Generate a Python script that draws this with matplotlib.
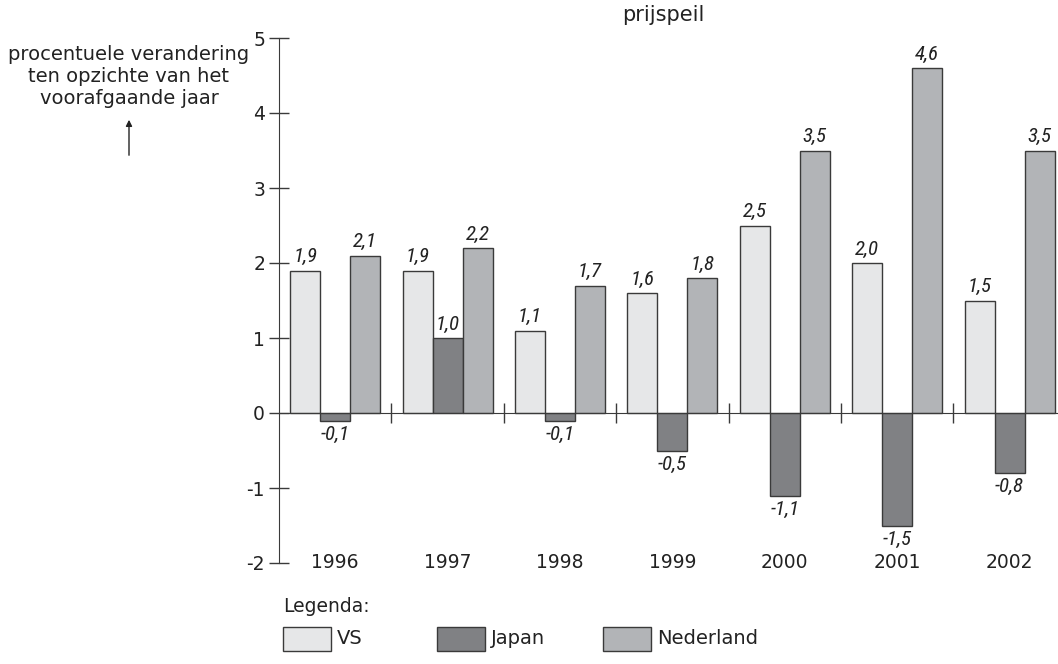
import matplotlib
matplotlib.use("Agg")
import matplotlib.pyplot as plt
import numpy as np
from matplotlib import font_manager
from matplotlib.patches import Rectangle, FancyArrowPatch

# data
years = ["1996", "1997", "1998", "1999", "2000", "2001", "2002"]
vs = [1.9, 1.9, 1.1, 1.6, 2.5, 2.0, 1.5]
japan = [-0.1, 1.0, -0.1, -0.5, -1.1, -1.5, -0.8]
nederland = [2.1, 2.2, 1.7, 1.8, 3.5, 4.6, 3.5]
series_names = ["VS", "Japan", "Nederland"]
yticks = [-2, -1, 0, 1, 2, 3, 4, 5]

colors = ["#e6e7e8", "#808184", "#b2b4b7"]
edge = "#3a3a3a"
txt = "#222222"

# pick a narrow font for the value labels if there is one
names = {f.name for f in font_manager.fontManager.ttflist}
narrow = "DejaVu Sans"
for cand in ["Liberation Sans Narrow", "DejaVu Sans Condensed", "Roboto Condensed"]:
    if cand in names:
        narrow = cand
        break

plt.rcParams['font.family'] = ['DejaVu Sans']

fig = plt.figure(figsize=(10.58, 6.64), dpi=100)
ax = fig.add_axes([279 / 1058, 101 / 664, 779 / 1058, 525 / 664])

x = np.arange(len(years))
w = 0.267
for k, vals in enumerate([vs, japan, nederland]):
    pos = x + (k - 1) * w
    ax.bar(pos, vals, width=w, color=colors[k], edgecolor=edge, linewidth=1.0, zorder=2)
    for xp, v in zip(pos, vals):
        lab = f"{v:.1f}".replace(".", ",")
        if v >= 0:
            ax.annotate(lab, (xp, v), xytext=(0, 3), textcoords="offset points",
                        ha="center", va="bottom", fontsize=15, style="italic",
                        family=narrow, color=txt)
        else:
            ax.annotate(lab, (xp, v), xytext=(0, -3), textcoords="offset points",
                        ha="center", va="top", fontsize=15, style="italic",
                        family=narrow, color=txt)

ax.set_xlim(-0.5, -0.5 + 779 / 112.4)
ax.set_ylim(-2, 5)

for s in ["top", "right"]:
    ax.spines[s].set_visible(False)
ax.spines["bottom"].set_position(("data", 0))
ax.spines["bottom"].set_zorder(3)
ax.spines["left"].set_color(edge)
ax.spines["bottom"].set_color(edge)

ax.set_yticks(yticks)
ax.set_yticklabels([str(t) for t in yticks])
ax.tick_params(axis="y", direction="inout", length=14, width=1, pad=3,
               labelsize=13.5, colors=edge, labelcolor=txt)
ax.set_xticks(x[:-1] + 0.5)
ax.set_xticklabels([])
ax.tick_params(axis="x", direction="inout", length=14, width=1, colors=edge)

for xp, yr in zip(x, years):
    ax.text(xp, -2, yr, ha="center", va="center", fontsize=13.5, color=txt)

fig.text(663 / 1058, 1 - 15 / 664, "prijspeil", ha="center", va="center",
         fontsize=15, color=txt)

fig.text(129 / 1058, 1 - 76 / 664,
         "procentuele verandering\nten opzichte van het\nvoorafgaande jaar",
         ha="center", va="center", fontsize=14, color=txt, linespacing=1.2)
arrow = FancyArrowPatch((129 / 1058, 1 - 158 / 664), (129 / 1058, 1 - 117 / 664),
                        transform=fig.transFigure, arrowstyle="-|>",
                        mutation_scale=9, color=txt, linewidth=1)
fig.add_artist(arrow)

# legend
fig.text(283 / 1058, 1 - 607 / 664, "Legenda:", ha="left", va="center",
         fontsize=13.5, color=txt)
box_x = [283, 437, 603]
for bx, name, c in zip(box_x, series_names, colors):
    fig.add_artist(Rectangle((bx / 1058, 1 - 651 / 664), 48 / 1058, 24 / 664,
                             transform=fig.transFigure, facecolor=c,
                             edgecolor=edge, linewidth=1))
    fig.text((bx + 54) / 1058, 1 - 639 / 664, name, ha="left", va="center",
             fontsize=14, color=txt)

fig.savefig("out.png", dpi=100)
